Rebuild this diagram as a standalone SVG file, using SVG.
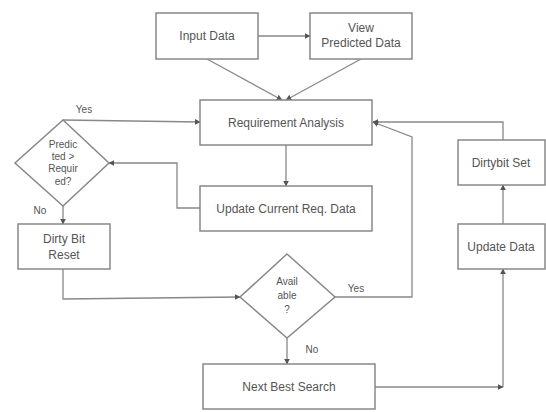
<svg xmlns="http://www.w3.org/2000/svg" width="546" height="412" viewBox="0 0 546 412">
<defs>
<marker id="ah" viewBox="0 0 10 10" refX="9" refY="5" markerWidth="6" markerHeight="6" orient="auto" markerUnits="userSpaceOnUse">
<path d="M0,0 L10,5 L0,10 z" fill="#555"/>
</marker>
<style>
.box{fill:#fff;stroke:#888;stroke-width:1.5}
.t{font-family:"Liberation Sans",Arial,sans-serif;font-size:12px;fill:#555;text-anchor:middle}
.s{font-family:"Liberation Sans",Arial,sans-serif;font-size:10px;fill:#555;text-anchor:middle}
.c{fill:none;stroke:#888;stroke-width:1.3}
.a{marker-end:url(#ah)}
</style>
</defs>
<rect width="546" height="412" fill="#fff"/>
<g id="connectors">
<path class="c a" d="M258,36 L310,36"/>
<path class="c a" d="M207,59 L282,100"/>
<path class="c a" d="M361,59 L286,100"/>
<path class="c a" d="M63,120 L200,122"/>
<path class="c a" d="M286,145 L286,186"/>
<path class="c a" d="M200,208 L177,208 L177,163 L109,163"/>
<path class="c a" d="M63,206 L63,224"/>
<path class="c a" d="M63,269 L63,299 L240,297"/>
<path class="c a" d="M335,297 L412,297 L412,137 L373,122"/>
<path class="c a" d="M503,140 L503,122 L373,122"/>
<path class="c a" d="M287,338 L287,364"/>
<path class="c a" d="M375,387 L503,387"/>
<path class="c a" d="M503,387 L503,269"/>
<path class="c a" d="M503,224 L503,185"/>
<text class="s" x="84" y="113">Yes</text>
<text class="s" x="40" y="214">No</text>
<text class="s" x="356" y="292">Yes</text>
<text class="s" x="312" y="353">No</text>
</g>
<g id="input-data">
<rect class="box" x="156" y="13" width="102" height="46"/>
<text class="t" x="207" y="40">Input Data</text>
</g>
<g id="view-predicted">
<rect class="box" x="310" y="13" width="102" height="46"/>
<text class="t" x="361" y="32">View</text>
<text class="t" x="361" y="47">Predicted Data</text>
</g>
<g id="requirement-analysis">
<rect class="box" x="200" y="100" width="172" height="45"/>
<text class="t" x="286" y="127">Requirement  Analysis</text>
</g>
<g id="predicted-required">
<polygon class="box" points="63,120 109,163 63,206 15,163"/>
<text class="s" x="63" y="148">Predic</text>
<text class="s" x="63" y="160">ted &gt;</text>
<text class="s" x="63" y="172">Requir</text>
<text class="s" x="63" y="185">ed?</text>
</g>
<g id="update-current">
<rect class="box" x="200" y="186" width="172" height="45"/>
<text class="t" x="286" y="213">Update Current Req. Data</text>
</g>
<g id="dirty-bit-reset">
<rect class="box" x="18" y="224" width="92" height="45"/>
<text class="t" x="64" y="243">Dirty Bit</text>
<text class="t" x="64" y="259">Reset</text>
</g>
<g id="available">
<polygon class="box" points="287,254 335,297 287,338 240,297"/>
<text class="s" x="287" y="285">Avail</text>
<text class="s" x="287" y="299">able</text>
<text class="s" x="287" y="313">?</text>
</g>
<g id="next-best-search">
<rect class="box" x="203" y="364" width="172" height="45"/>
<text class="t" x="289" y="391">Next Best Search</text>
</g>
<g id="dirtybit-set">
<rect class="box" x="458" y="140" width="87" height="45"/>
<text class="t" x="501" y="167">Dirtybit Set</text>
</g>
<g id="update-data">
<rect class="box" x="458" y="224" width="87" height="45"/>
<text class="t" x="501" y="251">Update Data</text>
</g>
</svg>
